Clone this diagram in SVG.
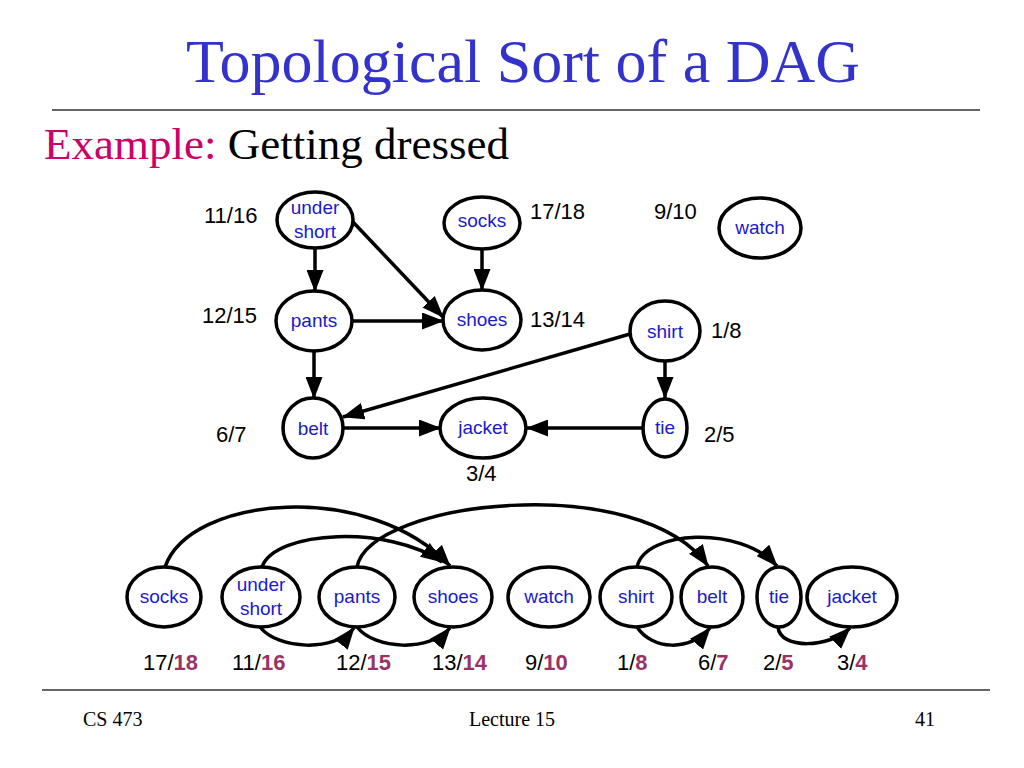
<svg xmlns="http://www.w3.org/2000/svg" width="1024" height="768" viewBox="0 0 1024 768">
<defs>
<marker id="ah" markerUnits="userSpaceOnUse" markerWidth="22" markerHeight="17" viewBox="0 0 22 17" refX="21" refY="8.5" orient="auto">
<path d="M0,0 L22,8.5 L0,17 z" fill="#000"/>
</marker>
</defs>
<style>
.node ellipse{fill:#fff;stroke:#000;stroke-width:3.5}
.nt{font-family:"Liberation Sans",Arial,sans-serif;font-size:19px;fill:#1a1acc;text-anchor:middle}
.num{font-family:"Liberation Sans",Arial,sans-serif;font-size:22px;fill:#000}
.b{font-weight:bold;fill:#993366}
.edges path{fill:none;stroke:#000;stroke-width:3.5;marker-end:url(#ah)}
.foot{font-family:"Liberation Serif","Times New Roman",serif;font-size:20px;fill:#000}
</style>
<rect width="1024" height="768" fill="#fff"/>
<text x="523" y="82" text-anchor="middle" font-family="Liberation Serif,'Times New Roman',serif" font-size="62" fill="#3333cc">Topological Sort of a DAG</text>
<line x1="52" y1="110" x2="980" y2="110" stroke="#666" stroke-width="2"/>
<text x="44" y="159" font-family="Liberation Serif,'Times New Roman',serif" font-size="45"><tspan fill="#cc0066">Example:</tspan><tspan fill="#000"> Getting dressed</tspan></text>

<g class="edges" id="connectors">
<path d="M315,248 L315,291"/>
<path d="M353,222 L443,317"/>
<path d="M482,249 L482,290"/>
<path d="M352,321 L443,321"/>
<path d="M314,351 L314,398"/>
<path d="M630,334 L343,417"/>
<path d="M665,361 L665,398"/>
<path d="M343,428 L440,428"/>
<path d="M643,428 L527,428"/>
<path d="M165,567 C190,495 370,480 450,566"/>
<path d="M262,567 C275,530 390,525 442,562"/>
<path d="M357,567 C370,500 640,470 708,566"/>
<path d="M637,567 C645,530 740,525 777,566"/>
<path d="M260,627 C278,650 335,652 354,628"/>
<path d="M357,627 C375,650 430,652 450,628"/>
<path d="M637,627 C652,650 690,652 710,628"/>
<path d="M778,627 C780,650 830,648 850,628"/>
</g>

<g class="node" id="t-undershort"><ellipse cx="315" cy="220" rx="38" ry="28"/><text class="nt" x="315" y="214">under</text><text class="nt" x="315" y="238">short</text></g>
<g class="node" id="t-socks"><ellipse cx="482" cy="223" rx="38" ry="26"/><text class="nt" x="482" y="227">socks</text></g>
<g class="node" id="t-watch"><ellipse cx="760" cy="228" rx="41" ry="30"/><text class="nt" x="760" y="234">watch</text></g>
<g class="node" id="t-pants"><ellipse cx="314" cy="321" rx="38" ry="30"/><text class="nt" x="314" y="327">pants</text></g>
<g class="node" id="t-shoes"><ellipse cx="482" cy="320" rx="39" ry="30"/><text class="nt" x="482" y="326">shoes</text></g>
<g class="node" id="t-shirt"><ellipse cx="665" cy="331" rx="35" ry="30"/><text class="nt" x="665" y="338">shirt</text></g>
<g class="node" id="t-belt"><ellipse cx="313" cy="428" rx="30" ry="30"/><text class="nt" x="313" y="435">belt</text></g>
<g class="node" id="t-jacket"><ellipse cx="483" cy="428" rx="43" ry="30"/><text class="nt" x="483" y="434">jacket</text></g>
<g class="node" id="t-tie"><ellipse cx="665" cy="428" rx="22" ry="29"/><text class="nt" x="665" y="434">tie</text></g>

<g id="top-labels">
<text class="num" x="204" y="223">11/16</text>
<text class="num" x="530" y="219">17/18</text>
<text class="num" x="654" y="219">9/10</text>
<text class="num" x="202" y="323">12/15</text>
<text class="num" x="530" y="327">13/14</text>
<text class="num" x="711" y="338">1/8</text>
<text class="num" x="216" y="442">6/7</text>
<text class="num" x="704" y="442">2/5</text>
<text class="num" x="466" y="481">3/4</text>
</g>

<g class="node" id="b-socks"><ellipse cx="164" cy="597" rx="37" ry="30"/><text class="nt" x="164" y="603">socks</text></g>
<g class="node" id="b-undershort"><ellipse cx="261" cy="597" rx="39" ry="30"/><text class="nt" x="261" y="591">under</text><text class="nt" x="261" y="615">short</text></g>
<g class="node" id="b-pants"><ellipse cx="357" cy="597" rx="38" ry="30"/><text class="nt" x="357" y="603">pants</text></g>
<g class="node" id="b-shoes"><ellipse cx="453" cy="597" rx="39" ry="30"/><text class="nt" x="453" y="603">shoes</text></g>
<g class="node" id="b-watch"><ellipse cx="549" cy="597" rx="41" ry="30"/><text class="nt" x="549" y="603">watch</text></g>
<g class="node" id="b-shirt"><ellipse cx="636" cy="597" rx="36" ry="30"/><text class="nt" x="636" y="603">shirt</text></g>
<g class="node" id="b-belt"><ellipse cx="712" cy="597" rx="31" ry="30"/><text class="nt" x="712" y="603">belt</text></g>
<g class="node" id="b-tie"><ellipse cx="779" cy="597" rx="22" ry="30"/><text class="nt" x="779" y="603">tie</text></g>
<g class="node" id="b-jacket"><ellipse cx="852" cy="597" rx="45" ry="30"/><text class="nt" x="852" y="603">jacket</text></g>

<g id="bottom-labels">
<text class="num" x="143" y="670">17/<tspan class="b">18</tspan></text>
<text class="num" x="232" y="670">11/<tspan class="b">16</tspan></text>
<text class="num" x="336" y="670">12/<tspan class="b">15</tspan></text>
<text class="num" x="432" y="670">13/<tspan class="b">14</tspan></text>
<text class="num" x="525" y="670">9/<tspan class="b">10</tspan></text>
<text class="num" x="617" y="670">1/<tspan class="b">8</tspan></text>
<text class="num" x="698" y="670">6/<tspan class="b">7</tspan></text>
<text class="num" x="763" y="670">2/<tspan class="b">5</tspan></text>
<text class="num" x="837" y="670">3/<tspan class="b">4</tspan></text>
</g>

<line x1="42" y1="690" x2="990" y2="690" stroke="#666" stroke-width="2"/>
<text class="foot" x="83" y="726">CS 473</text>
<text class="foot" x="512" y="726" text-anchor="middle">Lecture 15</text>
<text class="foot" x="915" y="726">41</text>
</svg>
